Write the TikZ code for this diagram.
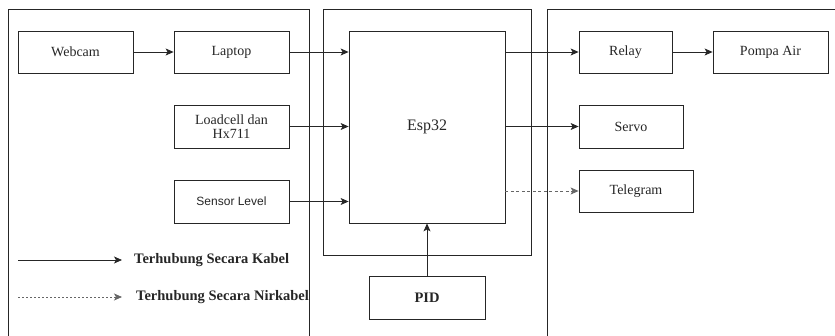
\documentclass[tikz,border=0pt]{standalone}
\usepackage{fontspec}
\setmainfont{Liberation Serif}
\setsansfont{Liberation Sans}
\usetikzlibrary{calc, positioning}
\usetikzlibrary{arrows.meta}

\tikzset{
  block/.style={draw, black!85, thick, text=black!85, font=\fontsize{14}{15.5}\selectfont,
    minimum height=42pt, inner sep=1pt, align=center},
  panel/.style={draw, black!85, thick},
  link/.style={black!85, thick, -{Stealth[length=8pt, width=7pt, inset=2pt]}},
  wireless/.style={link, black!60, dash pattern=on 3pt off 2.5pt},
  legendtext/.style={anchor=west, inner sep=0pt, text=black!85, font=\bfseries\fontsize{14.5}{16}\selectfont},
}

\begin{document}
\begin{tikzpicture}[x=1pt,y=-1pt]
\useasboundingbox (0,0) rectangle (835,336);
\def\rowa{52}
\def\rowb{126.5}
\def\rowc{201.5}
\def\legy{260}
\def\legz{297}

% Panels
\draw[panel] (8,336) -- (8,9) -- (309,9) -- (309,336);
\draw[panel] (323,9) rectangle (531,255);
\draw[panel] (547,336) -- (547,9) -- (835,9);

% Input side
\node[block, minimum width=115pt] (webcam) at (75.5,\rowa) {Webcam};
\node[block, minimum width=115pt] (laptop) at (231.5,\rowa) {Laptop};
\node[block, minimum width=115pt, minimum height=43pt] (loadcell) at (231.5,\rowb) {Loadcell dan\\[-1pt]Hx711};
\node[block, minimum width=115pt, minimum height=43pt, font=\sffamily\fontsize{12}{13}\selectfont] (level) at (231.5,\rowc) {Sensor Level};

% Controller
\node[block, minimum width=156pt, minimum height=192pt, font=\fontsize{16}{18}\selectfont] (esp) at (427,127) {Esp32};
\node[block, minimum width=116pt, minimum height=43pt, font=\bfseries\fontsize{14.5}{16}\selectfont] (pid) at (427,297.5) {PID};

% Output side
\node[block, minimum width=93pt] (relay) at (625.5,\rowa) {Relay};
\node[block, minimum width=115pt] (pompa) at (770.5,\rowa) {Pompa Air};
\node[block, minimum width=104pt, minimum height=43pt] (servo) at (631,\rowb) {Servo};
\node[block, minimum width=114pt] (telegram) at (636,191) {Telegram};

% Connections
\draw[link] (webcam) -- (laptop);
\draw[link] (laptop.east) -- (laptop.east -| esp.west);
\draw[link] (loadcell.east) -- (loadcell.east -| esp.west);
\draw[link] (level.east) -- (level.east -| esp.west);
\draw[link] (pid) -- (esp);
\draw[link] (esp.east |- relay.west) -- (relay.west);
\draw[link] (relay) -- (pompa);
\draw[link] (esp.east |- servo.west) -- (servo.west);
\draw[wireless] (esp.east |- telegram.west) -- (telegram.west);

% Legend
\coordinate (kabelA) at (18,\legy);
\coordinate (kabelB) at (122,\legy);
\coordinate (nirA) at (18,\legz);
\coordinate (nirB) at (122,\legz);
\draw[link] (kabelA) -- (kabelB);
\draw[link, black!60, dash pattern=on 2pt off 2pt] (nirA) -- (nirB);
\node[legendtext] (kabel) at (134,\legy) {Terhubung Secara Kabel};
\node[legendtext] (nirkabel) at (136,\legz) {Terhubung Secara Nirkabel};
\end{tikzpicture}
\end{document}
